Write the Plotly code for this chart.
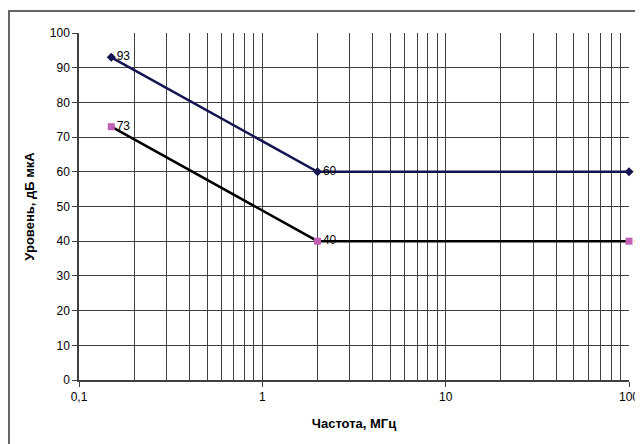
import plotly.graph_objects as go

freq = [0.15, 2, 100]
upper = [93, 60, 60]
lower = [73, 40, 40]
upper_labels = ["93", "60", "60"]
lower_labels = ["73", "40", "40"]
x_tickvals = [0.1, 1, 10, 100]
x_ticktext = ["0,1", "1", "10", "100"]
y_tickvals = [0, 10, 20, 30, 40, 50, 60, 70, 80, 90, 100]
minor_vals = [m * d for d in (0.1, 1, 10) for m in range(2, 10)]

font = "Liberation Sans, Arial, sans-serif"
fig = go.Figure()
fig.add_trace(go.Scatter(
    x=freq, y=lower, mode="lines+markers+text", text=lower_labels,
    textposition="middle right", cliponaxis=False,
    line=dict(color="black", width=2.5),
    marker=dict(symbol="square", size=7, color="#c05fb5"),
    textfont=dict(family=font, size=12, color="black"),
    showlegend=False))
fig.add_trace(go.Scatter(
    x=freq, y=upper, mode="lines+markers+text", text=upper_labels,
    textposition="middle right", cliponaxis=False,
    line=dict(color="#141450", width=2.5),
    marker=dict(symbol="diamond", size=7, color="#141450"),
    textfont=dict(family=font, size=12, color="black"),
    showlegend=False))

L, T, PW, PH = 71, 25, 550, 347
fig.update_layout(
    width=635, height=436,
    margin=dict(l=L, r=14, t=T, b=64),
    paper_bgcolor="white", plot_bgcolor="white",
    font=dict(family=font, size=11, color="black"),
    xaxis=dict(
        type="log", range=[-1, 2], automargin=False,
        tickmode="array", tickvals=x_tickvals, ticktext=x_ticktext,
        ticks="outside", ticklen=5, tickcolor="#404040",
        showgrid=True, gridcolor="#404040", gridwidth=1,
        showline=True, linecolor="#404040", linewidth=1.5,
        minor=dict(tickmode="array", tickvals=minor_vals, showgrid=True,
                   gridcolor="#404040", gridwidth=1, ticks=""),
        zeroline=False,
        title=dict(text="<b>Частота, МГц</b>", font=dict(size=13), standoff=16),
        tickfont=dict(size=12),
    ),
    yaxis=dict(
        range=[0, 100], tickmode="array", tickvals=y_tickvals, automargin=False,
        ticks="outside", ticklen=5, tickcolor="#404040",
        showgrid=True, gridcolor="#404040", gridwidth=1,
        showline=True, linecolor="#404040", linewidth=1.5,
        zeroline=False,
        title=dict(text="<b>Уровень, дБ мкА</b>", font=dict(size=13), standoff=12),
        tickfont=dict(size=12),
    ),
    shapes=[dict(type="rect", xref="paper", yref="paper",
                 x0=(1 - L) / PW, x1=(660 - L) / PW,
                 y0=-0.4, y1=1 + (T - 3) / PH,
                 line=dict(color="#666666", width=2), fillcolor="rgba(0,0,0,0)",
                 layer="below")],
)
fig.write_html("out.html")
